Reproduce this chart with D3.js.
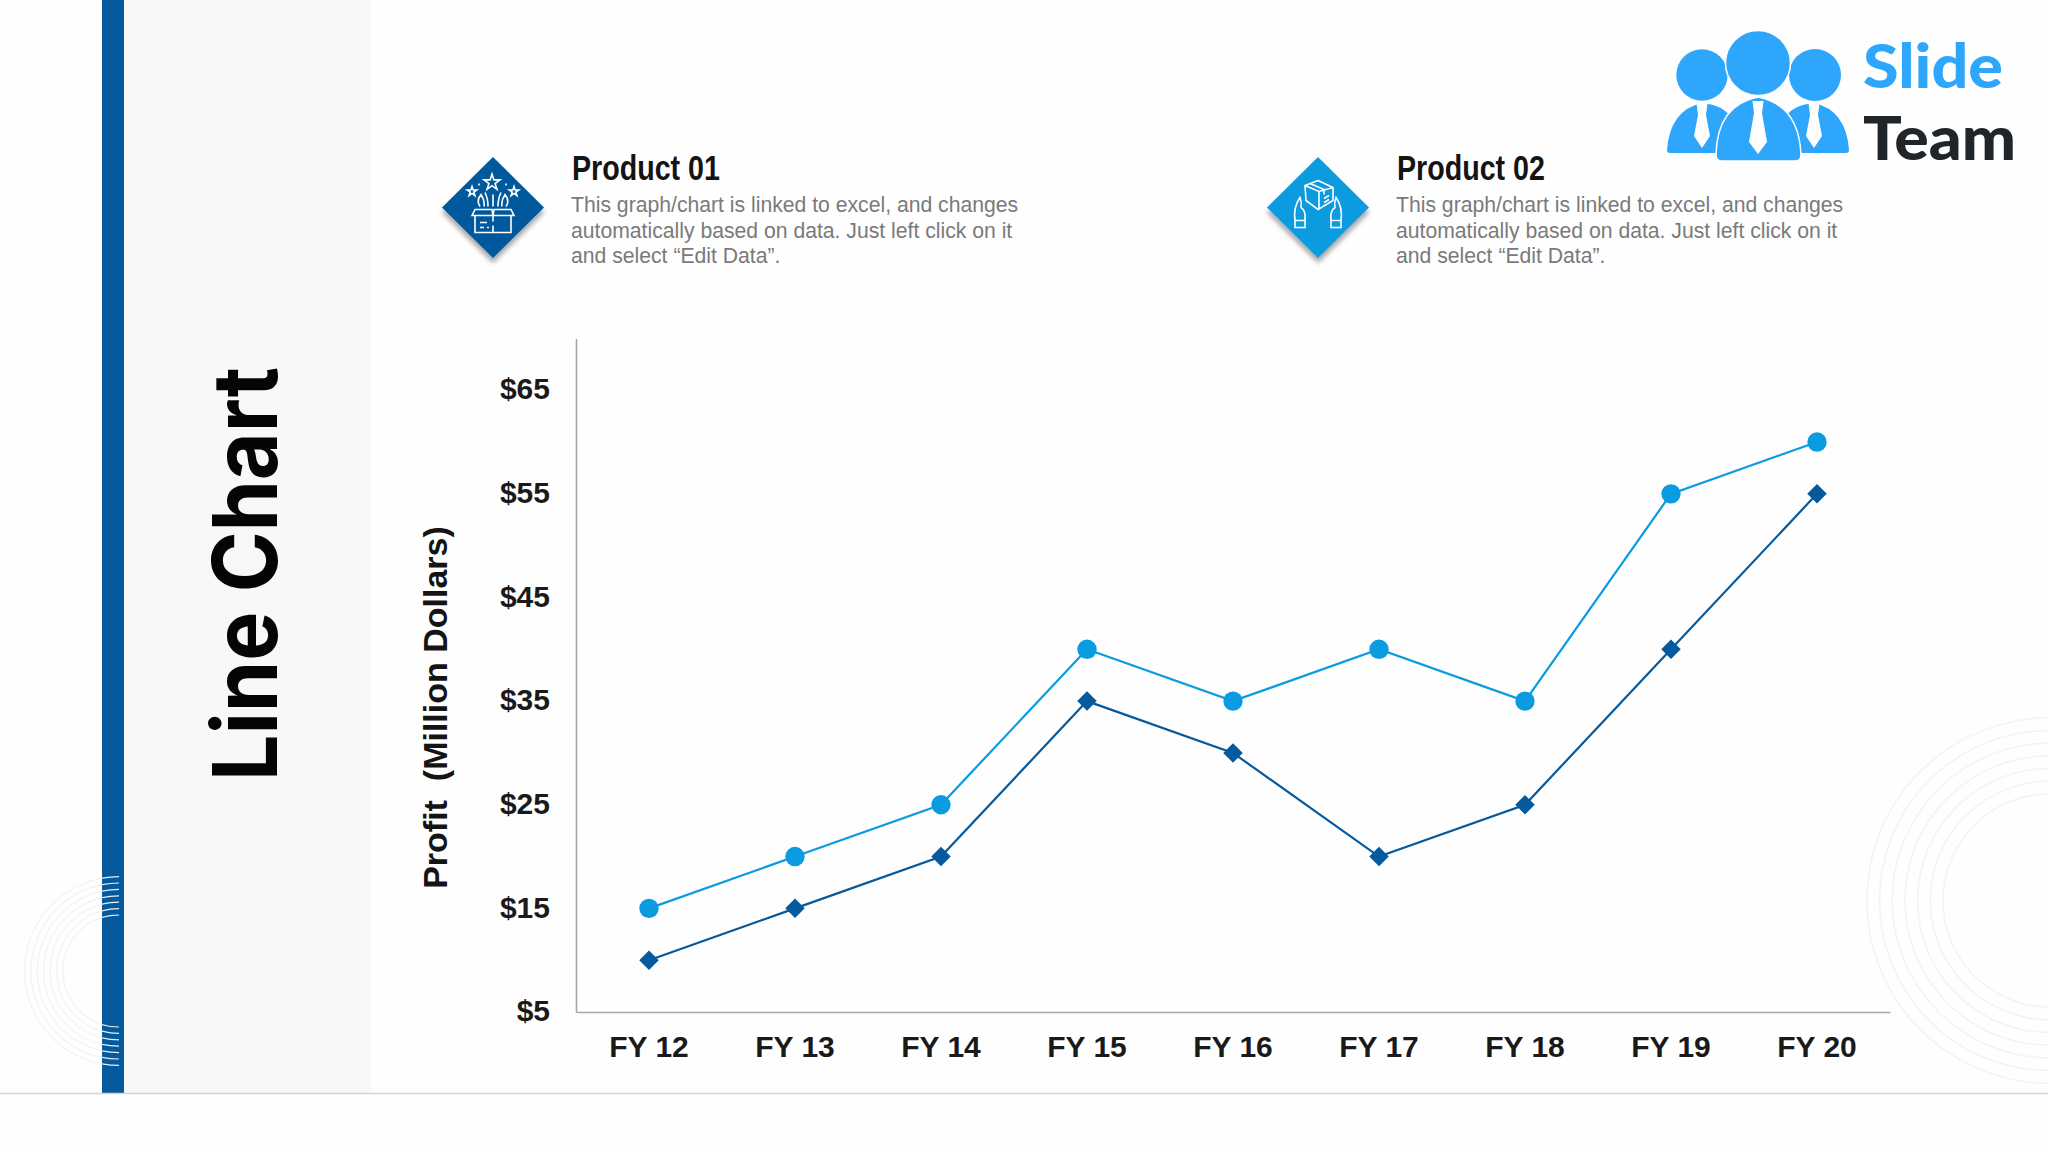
<!DOCTYPE html>
<html><head><meta charset="utf-8">
<script src="https://d3js.org/d3.v7.min.js"></script>
<style>html,body{margin:0;padding:0;background:#fefefe;overflow:hidden}svg{display:block}
text{font-family:"Liberation Sans",Arial,sans-serif}</style></head>
<body><svg id="c" width="2048" height="1152"></svg>
<script>
const categories=["FY 12","FY 13","FY 14","FY 15","FY 16","FY 17","FY 18","FY 19","FY 20"];
const product01=[10,15,20,35,30,20,25,40,55];
const product02=[15,20,25,40,35,40,35,55,60];
const yTicks=[5,15,25,35,45,55,65];
const descLines=["This graph/chart is linked to excel, and changes","automatically based on data. Just left click on it","and select “Edit Data”."];
const DARK="#05599d",LIGHT="#0a9be0";

const svg=d3.select("#c");
const defs=svg.append("defs");
const f=defs.append("filter").attr("id","sh").attr("x","-30%").attr("y","-30%").attr("width","160%").attr("height","160%");
f.append("feDropShadow").attr("dx",0).attr("dy",5).attr("stdDeviation",2.5).attr("flood-color","#000").attr("flood-opacity",.35);
defs.append("clipPath").attr("id","barclip").append("rect").attr("x",102).attr("y",860).attr("width",17).attr("height",220);
defs.append("clipPath").attr("id","leftclip").append("rect").attr("x",0).attr("y",860).attr("width",102).attr("height",220);

// background panels
svg.append("rect").attr("x",124).attr("y",0).attr("width",247).attr("height",1093).attr("fill","#f7f8f8");
svg.append("rect").attr("x",102).attr("y",0).attr("width",22).attr("height",1094).attr("fill",DARK);
svg.append("line").attr("x1",0).attr("x2",2048).attr("y1",1093.5).attr("y2",1093.5).attr("stroke","#d4d4d8").attr("stroke-width",1.5);

// decorative rings
const ringsR=d3.range(7).map(i=>106.5+i*12.7);
svg.append("g").selectAll("circle").data(ringsR).join("circle").attr("cx",2049.5).attr("cy",900.5).attr("r",d=>d)
  .attr("fill","none").attr("stroke","#f3f3f6").attr("stroke-width",1.6);
const ringsL=d3.range(7).map(i=>56+i*6.4);
svg.append("g").attr("clip-path","url(#leftclip)").selectAll("circle").data(ringsL).join("circle").attr("cx",119).attr("cy",971).attr("r",d=>d)
  .attr("fill","none").attr("stroke","#f2f2f6").attr("stroke-width",1.2);
svg.append("g").attr("clip-path","url(#barclip)").selectAll("circle").data(ringsL).join("circle").attr("cx",119).attr("cy",971).attr("r",d=>d)
  .attr("fill","none").attr("stroke","#e8f1f8").attr("stroke-width",1.2);

// page title
svg.append("text").attr("transform","translate(277,781) rotate(-90) scale(0.915,1)").attr("text-anchor","start")
  .style("font-family","Inter").style("font-weight",700).style("font-size","90px").attr("fill","#050505").text("Line Chart");

// legend blocks
function legend(cx,tx,color,name,icon){
  const g=svg.append("g");
  g.append("path").attr("d",`M${cx} 157L${cx+51} 207.5L${cx} 258L${cx-51} 207.5Z`).attr("fill",color).attr("filter","url(#sh)");
  g.append("text").attr("transform",`translate(${tx+2},180) scale(0.83,1)`).attr("fill","#141414")
    .style("font-weight",700).style("font-size","34.5px").text(name);
  g.selectAll("text.d").data(descLines).join("text").attr("class","d").attr("transform",(d,i)=>`translate(${tx+1},${212+i*25.5}) scale(0.963,1)`)
    .attr("fill","#7a7a7a").style("font-size","22px").text(d=>d);
  const ig=g.append("g").attr("transform",`translate(${cx},207.5)`).attr("fill","none").attr("stroke","#fff").attr("stroke-width",1.6);
  icon(ig);
}
legend(493,570,DARK,"Product 01",g=>{
  g.append("path").attr("d","M-21 8L-18 2H-1L0 8L1 2H18L21 8ZM-18 8V25H18V8M0 8V14M0 18V25M-13 15H-6M-13 20H-9M-6 20H-4");
  g.append("path").attr("d",d3.symbol(d3.symbolStar,80)()).attr("transform","translate(-1,-25)");
  g.append("path").attr("d",d3.symbol(d3.symbolStar,28)()).attr("transform","translate(-21,-16)");
  g.append("path").attr("d",d3.symbol(d3.symbolStar,28)()).attr("transform","translate(21,-16)");
  g.append("path").attr("d","M-13 -1Q-17 -7 -12 -13Q-8 -7 -9 -1M13 -1Q17 -7 12 -13Q8 -7 9 -1M-5 -1Q-5 -9 -8 -15M5 -1Q5 -9 8 -15M0 -1V-13M-14 -24V-22M13 -24V-22");
});
legend(1318,1395,LIGHT,"Product 02",g=>{
  g.append("path").attr("d","M0 -27L15 -20V-7L0 2L-12 -7L-13 -22ZM-13 -22L1 -16L15 -20M1 -16V2M-8 -24L6 -18V-13M6 -5L11 -8M6 -9L11 -12");
  g.append("path").attr("d","M-23 13H-13V20H-23ZM-23 13Q-25 0 -18 -10Q-16 -5 -17 0Q-12 3 -13 13M23 13H13V20H23ZM23 13Q25 0 18 -10Q16 -5 17 0Q12 3 13 13");
});

// logo
const LOGO="#2ea6fb";
const logo=svg.append("g");
[[1702,75,25.7],[1815,75,26]].forEach(c=>logo.append("circle").attr("cx",c[0]).attr("cy",c[1]).attr("r",c[2]).attr("fill",LOGO));
logo.append("circle").attr("cx",1758).attr("cy",63).attr("r",32.5).attr("fill",LOGO).attr("stroke","#fefefe").attr("stroke-width",1.5);
logo.append("path").attr("d","M1667 150Q1670 110 1702 103Q1722 105 1730 116L1728 153H1670Q1667 153 1667 150Z").attr("fill",LOGO);
logo.append("path").attr("d","M1849 150Q1846 110 1814 103Q1794 105 1786 116L1788 153H1846Q1849 153 1849 150Z").attr("fill",LOGO);
logo.append("path").attr("d","M1716 155Q1717 105 1758 97Q1799 105 1801 155Q1801 161 1795 161H1722Q1716 161 1716 155Z").attr("fill",LOGO).attr("stroke","#fefefe").attr("stroke-width",1.5);
[[1702,103,148,8],[1814,103,148,8],[1758,101,154,9]].forEach(t=>{
  const [x,a,b,w]=t;
  logo.append("path").attr("d",`M${x-5.5} ${a}H${x+5.5}L${x+4} ${a+12}L${x+w} ${b-12}L${x} ${b}L${x-w} ${b-12}L${x-4} ${a+12}Z`).attr("fill","#fefefe");
});
logo.append("text").attr("x",1863).attr("y",88).attr("textLength",140).attr("lengthAdjust","spacingAndGlyphs").style("font-family","Lato").style("font-weight",900).style("font-size","61px").attr("fill",LOGO).text("Slide");
logo.append("text").attr("x",1863).attr("y",160).attr("textLength",153).attr("lengthAdjust","spacingAndGlyphs").style("font-family","Lato").style("font-weight",900).style("font-size","60px").attr("fill","#20252a").text("Team");

// chart
const x=d3.scaleBand().domain(categories).range([576,1890]);
const y=d3.scaleLinear().domain([5,70]).range([1012,338.4]);
const cx=d=>x(d)+x.bandwidth()/2;
const axX=svg.append("g").attr("transform","translate(0,1012)").call(d3.axisBottom(x).tickSize(0).tickPadding(23.7));
const axY=svg.append("g").attr("transform","translate(576,0)").call(d3.axisLeft(y).tickValues(yTicks).tickSize(0).tickPadding(26).tickFormat(d=>"$"+d));
[axX,axY].forEach(a=>{
  a.select(".domain").attr("stroke","#a6a6a6").attr("stroke-width",1.6);
  a.selectAll("text").attr("fill","#1a1a1a").style("font-family",'"Liberation Sans"').style("font-weight",700).style("font-size","30px");
});
axY.selectAll("text").attr("dy","0.29em");
svg.append("text").attr("transform","translate(447,707.5) rotate(-90)").attr("text-anchor","middle").attr("fill","#141414")
  .style("font-weight",700).style("font-size","34px").style("white-space","pre").text("Profit  (Million Dollars)");

const line=d3.line().x((d,i)=>cx(categories[i])).y(d=>y(d));
svg.append("path").datum(product02).attr("d",line).attr("fill","none").attr("stroke",LIGHT).attr("stroke-width",2.2);
svg.append("path").datum(product01).attr("d",line).attr("fill","none").attr("stroke",DARK).attr("stroke-width",2.2);
svg.append("g").selectAll("circle").data(product02).join("circle").attr("cx",(d,i)=>cx(categories[i])).attr("cy",d=>y(d)).attr("r",9.7).attr("fill",LIGHT);
svg.append("g").selectAll("path").data(product01).join("path").attr("d",d3.symbol(d3.symbolSquare,190)())
  .attr("transform",(d,i)=>`translate(${cx(categories[i])},${y(d)}) rotate(45)`).attr("fill",DARK);
</script></body></html>
